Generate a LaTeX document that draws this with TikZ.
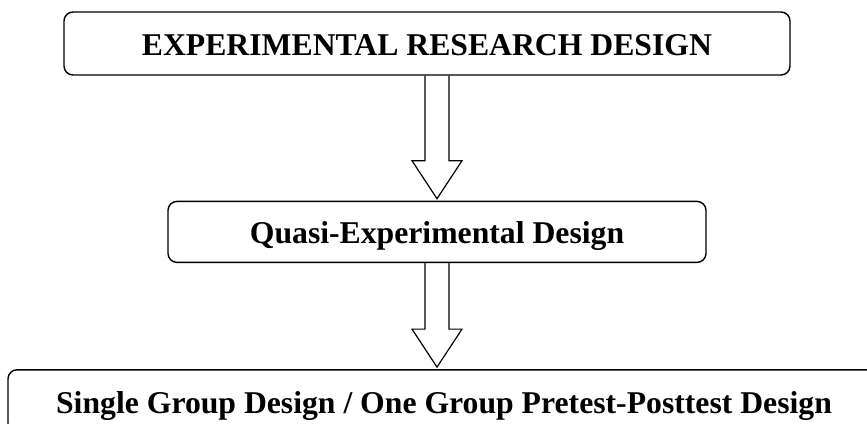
\documentclass[tikz,border=0pt]{standalone}
\usepackage{fontspec}
\setmainfont{Liberation Serif}
\usetikzlibrary{positioning,calc}

% hollow block arrow: #1 = start of the shaft, #2 = tip
\newcommand{\hollowarrow}[2]{%
  \draw[arrow line] let \p1=(#1), \p2=(#2) in
    (\x2-12pt,\y1) -- (\x2-12pt,\y2+40pt) -- (\x2-25pt,\y2+40pt) -- (\x2,\y2+2pt)
    -- (\x2+25pt,\y2+40pt) -- (\x2+12pt,\y2+40pt) -- (\x2+12pt,\y1);}

\begin{document}
\begin{tikzpicture}[x=1pt,y=1pt,
    design box/.style={draw,rounded corners=9pt,line width=1.4pt,inner sep=0pt,
      text height=24pt,text depth=0pt,font=\fontsize{31.7}{38}\selectfont\bfseries},
    arrow line/.style={line width=1.2pt,line join=miter}]

    \useasboundingbox (0,0) rectangle (867,-423);
    \clip (0,0) rectangle (867,-423);

    \node[design box,minimum width=726pt,minimum height=63pt] (research) at (427,-43.5) {EXPERIMENTAL RESEARCH DESIGN};
    \node[design box,minimum width=538pt,minimum height=61pt] (quasi) [below=125pt of research, xshift=10pt] {Quasi-Experimental Design};
    \node[design box,minimum width=872pt,minimum height=63pt] (single) [below=106pt of quasi, xshift=7pt] {Single Group Design / One Group Pretest-Posttest Design};

    \hollowarrow{research.south -| quasi.north}{quasi.north}
    \hollowarrow{quasi.south}{quasi.south |- single.north}
\end{tikzpicture}
\end{document}
